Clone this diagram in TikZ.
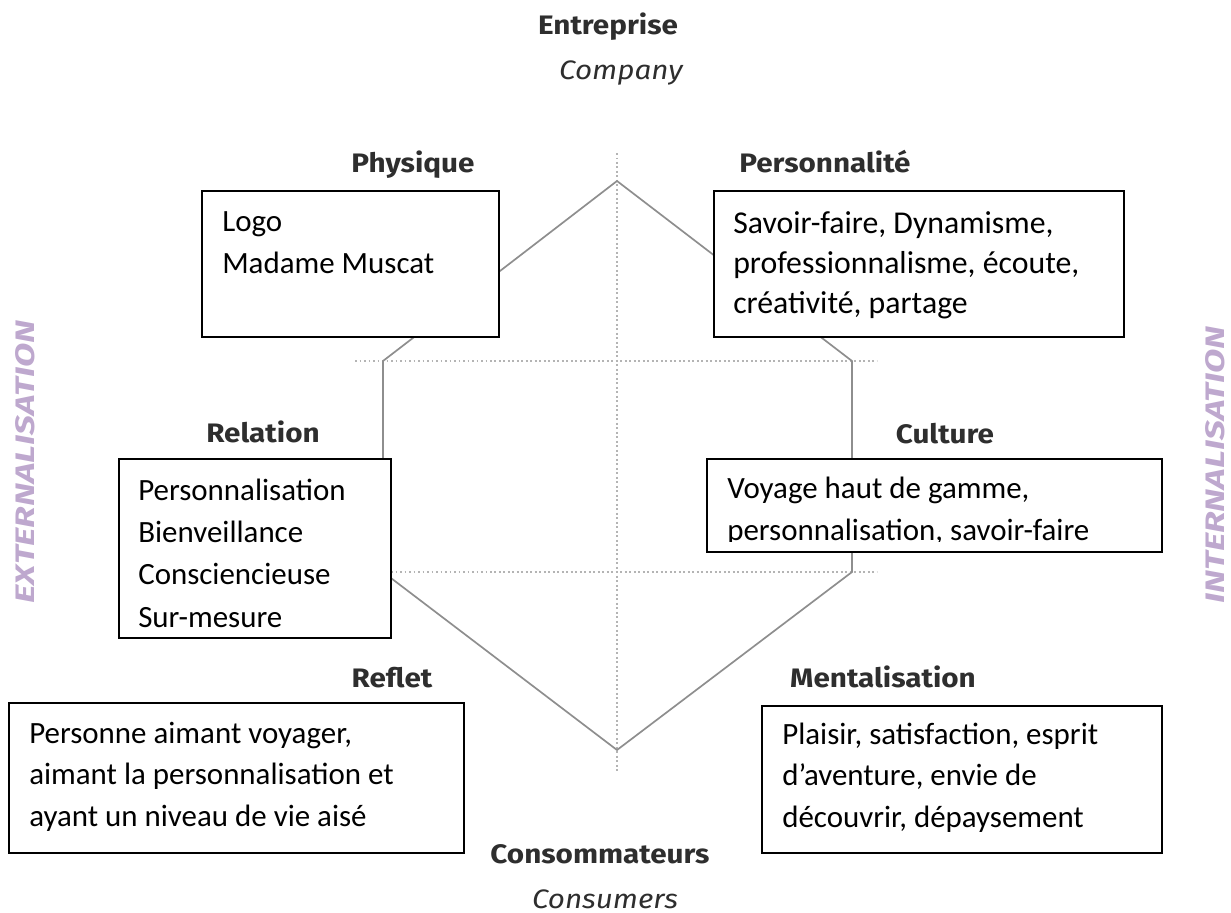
\documentclass[tikz,border=0pt]{standalone}
\usepackage{fontspec}
\setmainfont{Carlito}
\newfontfamily\labfont{Fira Sans}[FakeStretch=1.11]
\newfontfamily\sidefont{Fira Sans}[FakeStretch=1.32]
\usetikzlibrary{fit}
\definecolor{hexgray}{HTML}{8E8E8E}
\definecolor{dotgray}{HTML}{B4B4B4}
\definecolor{labgray}{HTML}{2E2E2E}
\definecolor{sidepurple}{RGB}{190,168,206}
\tikzset{
  lab/.style={font=\labfont\bfseries\fontsize{19}{22}\selectfont, text=labgray, inner sep=0pt, anchor=base},
  labit/.style={font=\labfont\itshape\fontsize{19}{22}\selectfont, text=labgray, inner sep=0pt, anchor=base},
  side/.style={font=\sidefont\bfseries\itshape\fontsize{19}{22}\selectfont, text=sidepurple, inner sep=0pt, rotate=90, anchor=center},
  boxframe/.style={draw=black, line width=0.8pt, fill=white, inner sep=0pt},
  txt/.style={font=\fontsize{22}{29.2}\selectfont, align=left, inner sep=0pt, anchor=base west},
  hexline/.style={draw=hexgray, line width=1.2pt, line join=miter},
  dotline/.style={draw=dotgray, line width=1.2pt, dotted}
}
\begin{document}
\begin{tikzpicture}[x=0.025cm,y=-0.025cm]
\useasboundingbox[fill=white] (0,0) rectangle (1231,913);

% axes (dotted)
\coordinate (vt) at (617,153);
\coordinate (vb) at (617,773);
\coordinate (ul) at (355,361);
\coordinate (ur) at (877,361);
\coordinate (ll) at (355,572);
\coordinate (lr) at (877,572);
\draw[dotline] (vt) -- (vb);
\draw[dotline] (ul) -- (ur);
\draw[dotline] (ll) -- (lr);

% hexagon
\coordinate (hT) at (617,181);
\coordinate (hUR) at (852,361);
\coordinate (hLR) at (852,572);
\coordinate (hB) at (617,750);
\coordinate (hLL) at (383,572);
\coordinate (hUL) at (383,361);
\draw[hexline] (hT) -- (hUR) -- (hLR) -- (hB) -- (hLL) -- (hUL) -- cycle;

% labels
\node[lab] (entreprise) at (608,35) {Entreprise};
\node[labit] (company) at (621,80) {Company};
\node[lab] (physique) at (413,172) {Physique};
\node[lab] (personnalite) at (825,172) {Personnalité};
\node[lab] (relation) at (263,442) {Relation};
\node[lab] (culture) at (945,443) {Culture};
\node[lab] (reflet) at (392,687) {Reflet};
\node[lab] (mentalisation) at (883,687) {Mentalisation};
\node[lab] (consommateurs) at (600,863) {Consommateurs};
\node[labit] (consumers) at (605,908) {Consumers};
\node[side] (externalisation) at (25,462) {EXTERNALISATION};
\node[side] (internalisation) at (1215,465) {INTERNALISATION};

% boxes (text nodes anchored at the baseline of their last line)
\coordinate (b1a) at (202,191); \coordinate (b1b) at (499,337);
\node[boxframe, fit=(b1a)(b1b)] (bphys) {};
\node[txt, font=\fontsize{22}{29.2}\selectfont] (tphys) at (222,273) {Logo\\Madame Muscat};

\coordinate (b2a) at (714,191); \coordinate (b2b) at (1124,337);
\node[boxframe, fit=(b2a)(b2b)] (bpers) {};
\node[txt, font=\fontsize{22.6}{28.4}\selectfont] (tpers) at (733,313) {Savoir-faire, Dynamisme,\\professionnalisme, écoute,\\créativité, partage};

\coordinate (b3a) at (119,459); \coordinate (b3b) at (391,638);
\node[boxframe, fit=(b3a)(b3b)] (brel) {};
\node[txt, font=\fontsize{22}{30.1}\selectfont] (trel) at (138,627) {Personnalisation\\Bienveillance\\Consciencieuse\\Sur-mesure};

\coordinate (b4a) at (707,459); \coordinate (b4b) at (1162,552);
\node[boxframe, fit=(b4a)(b4b)] (bcult) {};
\begin{scope}
\clip (707,459) rectangle (1162,541);
\node[txt, font=\fontsize{22}{29.2}\selectfont] (tcult) at (727,540) {Voyage haut de gamme,\\personnalisation, savoir-faire};
\end{scope}

\coordinate (b5a) at (9,703); \coordinate (b5b) at (464,853);
\node[boxframe, fit=(b5a)(b5b)] (brefl) {};
\node[txt, font=\fontsize{22}{29.5}\selectfont] (trefl) at (29,826) {Personne aimant voyager,\\aimant la personnalisation et\\ayant un niveau de vie aisé};

\coordinate (b6a) at (762,706); \coordinate (b6b) at (1162,853);
\node[boxframe, fit=(b6a)(b6b)] (bment) {};
\node[txt, font=\fontsize{22}{29.2}\selectfont] (tment) at (782,827) {Plaisir, satisfaction, esprit\\d’aventure, envie de\\découvrir, dépaysement};
\end{tikzpicture}
\end{document}
